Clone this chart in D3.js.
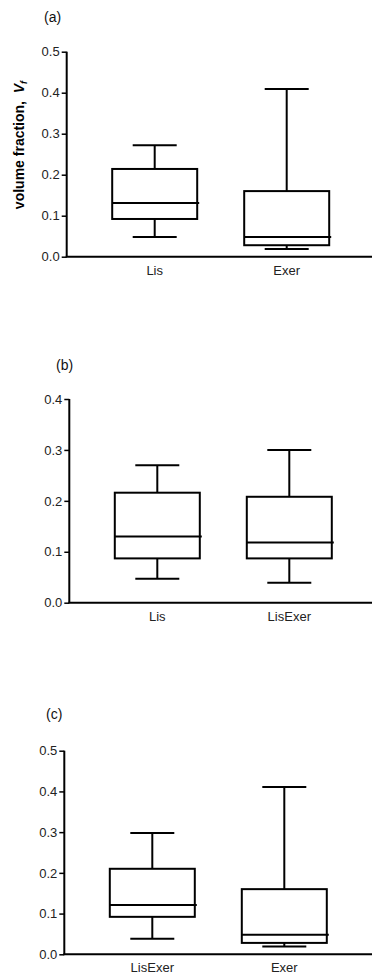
<!DOCTYPE html>
<html>
<head>
<meta charset="utf-8">
<script src="https://cdn.jsdelivr.net/npm/d3@7"></script>
<style>
  body { margin: 0; background: #fff; }
  svg { display: block; font-family: "Liberation Sans", Arial, sans-serif; }
</style>
</head>
<body>
<div id="chart"></div>
<script>
// box stats: [whiskerLow, q1, median, q3, whiskerHigh]
const catsA = ['Lis', 'Exer'];
const boxesA = [
  [0.048, 0.092, 0.131, 0.214, 0.272],
  [0.019, 0.028, 0.048, 0.160, 0.409]
];
const ticksA = [0.0, 0.1, 0.2, 0.3, 0.4, 0.5];

const catsB = ['Lis', 'LisExer'];
const boxesB = [
  [0.047, 0.087, 0.130, 0.216, 0.270],
  [0.039, 0.087, 0.118, 0.208, 0.300]
];
const ticksB = [0.0, 0.1, 0.2, 0.3, 0.4];

const catsC = ['LisExer', 'Exer'];
const boxesC = [
  [0.038, 0.092, 0.121, 0.210, 0.298],
  [0.019, 0.028, 0.048, 0.160, 0.411]
];
const ticksC = [0.0, 0.1, 0.2, 0.3, 0.4, 0.5];

const width = 372, height = 975;

const svg = d3.select('#chart')
  .append('svg')
  .attr('width', width)
  .attr('height', height);

function drawPanel(opts) {
  const { cats, boxes, ticks, axisX, y0, yTop, yMax, label, labelX, labelY } = opts;

  const y = d3.scaleLinear().domain([0, yMax]).range([y0, yTop]);
  const x = d3.scalePoint().domain(cats).range([axisX + 88, axisX + 220]);

  const g = svg.append('g');

  // y axis
  const yAxis = g.append('g')
    .attr('transform', `translate(${axisX},0)`)
    .call(d3.axisLeft(y).tickValues(ticks).tickFormat(d3.format('.1f')).tickSize(5).tickPadding(2));
  yAxis.select('.domain').attr('stroke', '#000').attr('stroke-width', 2)
    .attr('d', `M0,${yTop}V${y0}`);
  yAxis.selectAll('.tick line').attr('stroke', '#000').attr('stroke-width', 1.5);
  yAxis.selectAll('.tick text')
    .attr('font-size', 13).attr('fill', '#222')
    .attr('font-family', '"Liberation Sans", Arial, sans-serif');

  // x axis line
  g.append('line')
    .attr('x1', axisX - 1).attr('x2', width)
    .attr('y1', y0).attr('y2', y0)
    .attr('stroke', '#000').attr('stroke-width', 2);

  // category labels
  g.selectAll('.cat')
    .data(cats)
    .enter().append('text')
    .attr('x', d => x(d))
    .attr('y', y0 + 18)
    .attr('text-anchor', 'middle')
    .attr('font-size', 13)
    .attr('fill', '#222')
    .text(d => d);

  const halfBox = 42.5, halfCap = 22;
  const bx = g.selectAll('.box')
    .data(boxes.map((b, i) => ({ cat: cats[i], s: b })))
    .enter().append('g')
    .attr('fill', 'none')
    .attr('stroke', '#000')
    .attr('stroke-width', 2);

  // whiskers
  bx.append('line')
    .attr('x1', d => x(d.cat)).attr('x2', d => x(d.cat))
    .attr('y1', d => y(d.s[4])).attr('y2', d => y(d.s[3]));
  bx.append('line')
    .attr('x1', d => x(d.cat)).attr('x2', d => x(d.cat))
    .attr('y1', d => y(d.s[1])).attr('y2', d => y(d.s[0]));
  // caps
  bx.append('line')
    .attr('x1', d => x(d.cat) - halfCap).attr('x2', d => x(d.cat) + halfCap)
    .attr('y1', d => y(d.s[4])).attr('y2', d => y(d.s[4]));
  bx.append('line')
    .attr('x1', d => x(d.cat) - halfCap).attr('x2', d => x(d.cat) + halfCap)
    .attr('y1', d => y(d.s[0])).attr('y2', d => y(d.s[0]));
  // box
  bx.append('rect')
    .attr('x', d => x(d.cat) - halfBox)
    .attr('width', halfBox * 2)
    .attr('y', d => y(d.s[3]))
    .attr('height', d => y(d.s[1]) - y(d.s[3]));
  // median
  bx.append('line')
    .attr('x1', d => x(d.cat) - halfBox).attr('x2', d => x(d.cat) + halfBox + 2)
    .attr('y1', d => y(d.s[2])).attr('y2', d => y(d.s[2]));

  // panel label
  g.append('text')
    .attr('x', labelX).attr('y', labelY)
    .attr('font-size', 14)
    .attr('fill', '#111')
    .text(label);

  return g;
}

const gA = drawPanel({ cats: catsA, boxes: boxesA, ticks: ticksA, axisX: 66.7, y0: 256.7, yTop: 51.7, yMax: 0.5,
  label: '(a)', labelX: 44, labelY: 22 });
drawPanel({ cats: catsB, boxes: boxesB, ticks: ticksB, axisX: 69.3, y0: 602.7, yTop: 399, yMax: 0.4,
  label: '(b)', labelX: 56, labelY: 370 });
drawPanel({ cats: catsC, boxes: boxesC, ticks: ticksC, axisX: 64.3, y0: 954.3, yTop: 750.7, yMax: 0.5,
  label: '(c)', labelX: 46, labelY: 719 });

// y axis title of panel (a)
const yt = gA.append('text')
  .attr('transform', 'translate(24,145) rotate(-90)')
  .attr('text-anchor', 'middle')
  .attr('font-size', 14)
  .attr('font-weight', 'bold')
  .attr('fill', '#000');
yt.append('tspan').text('volume fraction,\u00a0\u00a0');
yt.append('tspan').attr('font-style', 'italic').text('V');
yt.append('tspan').attr('font-style', 'italic').attr('font-size', 9).attr('dy', 3).text('f');
</script>
</body>
</html>
